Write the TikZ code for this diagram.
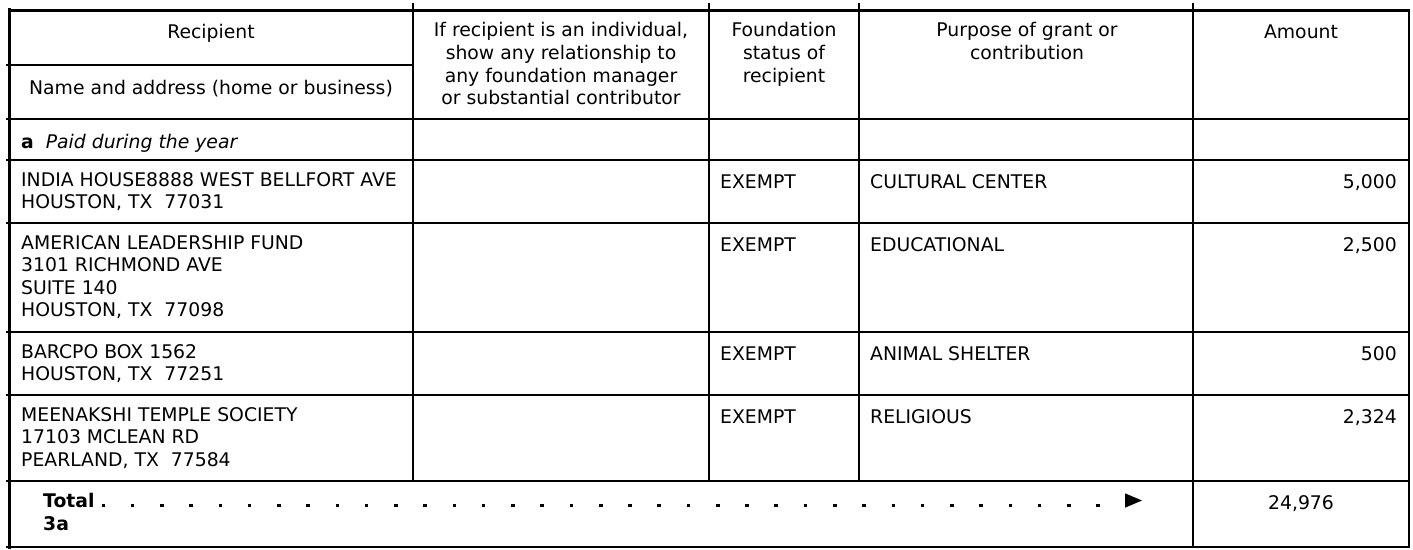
\documentclass[tikz,border=0pt]{standalone}
\usepackage{fontspec}
\setmainfont{DejaVu Sans}
\tikzstyle{cell} = [inner sep=0pt, anchor=north west, align=left, font=\fontsize{18.8}{22.6}\selectfont, execute at begin node=\strut]
\tikzstyle{head} = [cell, anchor=north, align=center]
\tikzstyle{amt} = [cell, anchor=north east, align=right]
\tikzstyle{thinline} = [line width=1.3pt]
\tikzstyle{thickline} = [line width=3pt]

\begin{document}
\begin{tikzpicture}[x=1pt, y=-1pt]

        \useasboundingbox (0,0) rectangle (1413,549);

        %% frame

        \draw[thickline] (9.5,8) -- (9.5,548.5);
        \draw[thickline] (8,10.5) -- (1409.5,10.5);
        \draw[thinline] (1409,9) -- (1409,547.5);
        \draw[thinline] (6,547) -- (1409.5,547);

        %% rows and columns

        \draw[thinline] (6,65) -- (413,65);
        \foreach \y in {119,160,223,332,395,481}
            \draw[thinline] (6,\y) -- (1409,\y);
        \foreach \x in {413,709,859}
            \draw[thinline] (\x,3) -- (\x,481);
        \draw[thinline] (1193,3) -- (1193,547);

        %% header

        \node (hRecip) [head] at (211,22.5) {Recipient};
        \node (hName) [head] at (211,78) {Name and address (home or business)};
        \node (hRel) [head] at (561,22.5) {If recipient is an individual,\\show any relationship to\\any foundation manager\\or substantial contributor};
        \node (hStat) [head] at (784,22.5) {Foundation\\status of\\recipient};
        \node (hPurp) [head] at (1027,22.5) {Purpose of grant or\\contribution};
        \node (hAmt) [head] at (1301,22.5) {Amount};

        \node (rowA) [cell] at (21,132) {\textbf{a}\hspace{12pt}\textit{Paid during the year}};

        %% grants

        \node (n1) [cell] at (21,172) {INDIA HOUSE8888 WEST BELLFORT AVE\\HOUSTON, TX\ \ 77031};
        \node (s1) [cell] at (720,172) {EXEMPT};
        \node (p1) [cell] at (870,172) {CULTURAL CENTER};
        \node (a1) [amt] at (1397,172) {5,000};

        \node (n2) [cell] at (21,235) {AMERICAN LEADERSHIP FUND\\3101 RICHMOND AVE\\SUITE 140\\HOUSTON, TX\ \ 77098};
        \node (s2) [cell] at (720,235) {EXEMPT};
        \node (p2) [cell] at (870,235) {EDUCATIONAL};
        \node (a2) [amt] at (1397,235) {2,500};

        \node (n3) [cell] at (21,344) {BARCPO BOX 1562\\HOUSTON, TX\ \ 77251};
        \node (s3) [cell] at (720,344) {EXEMPT};
        \node (p3) [cell] at (870,344) {ANIMAL SHELTER};
        \node (a3) [amt] at (1397,344) {500};

        \node (n4) [cell] at (21,407) {MEENAKSHI TEMPLE SOCIETY\\17103 MCLEAN RD\\PEARLAND, TX\ \ 77584};
        \node (s4) [cell] at (720,407) {EXEMPT};
        \node (p4) [cell] at (870,407) {RELIGIOUS};
        \node (a4) [amt] at (1397,407) {2,324};

        %% total

        \node (tot) [cell] at (43,493) {\textbf{Total}\\\textbf{3a}};
        \foreach \i in {0,...,34}
            \fill ({101.5+29.26*\i},503.5) rectangle ++(3.6,3.8);
        \fill (1125,493.3) -- (1142,500.5) -- (1125,507.7) -- cycle;
        \node (totAmt) [head] at (1301,493) {24,976};

    \end{tikzpicture}
\end{document}
